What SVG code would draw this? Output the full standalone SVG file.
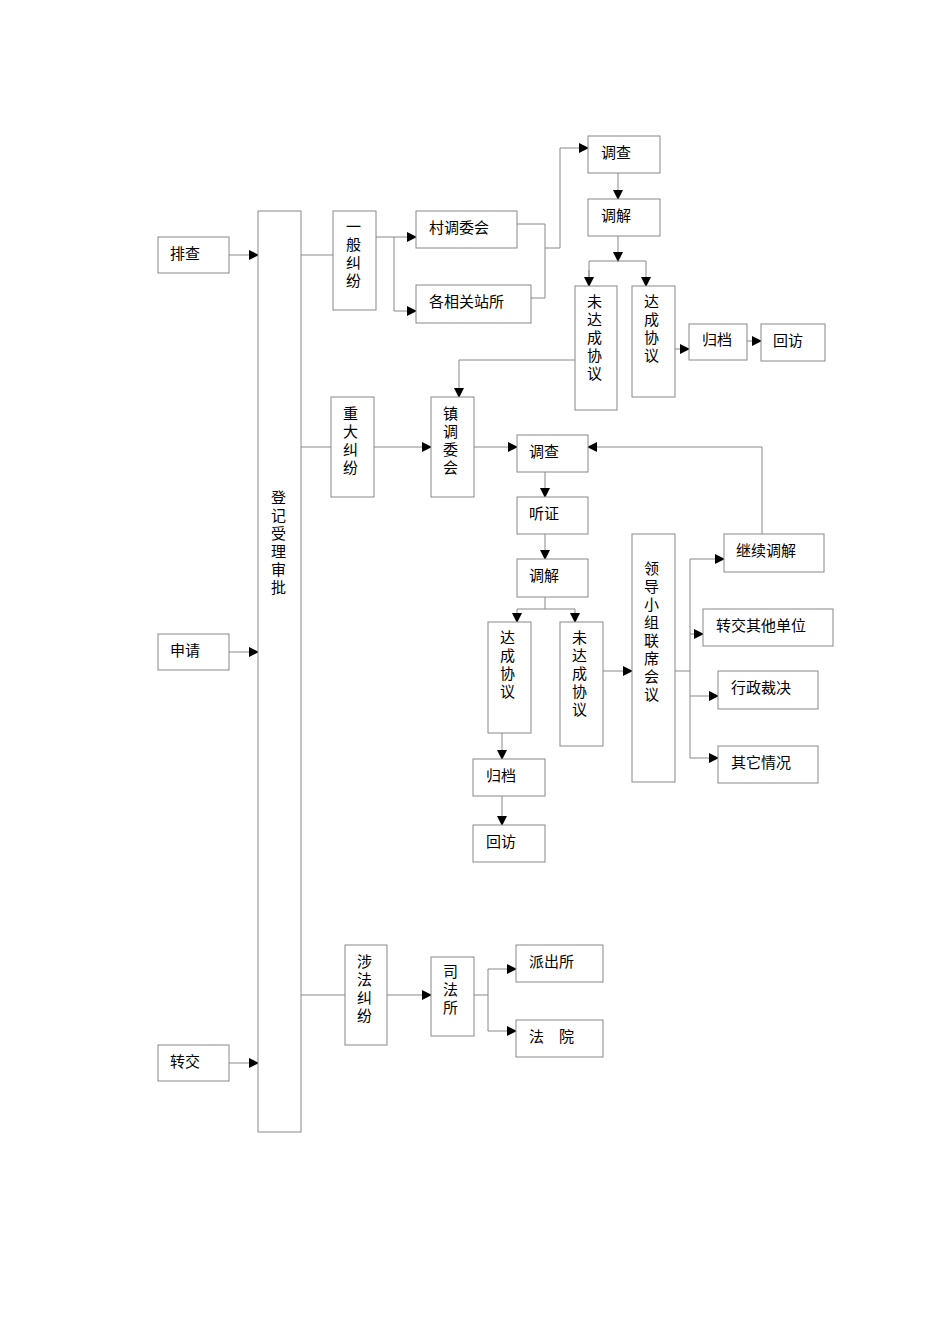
<svg xmlns="http://www.w3.org/2000/svg" width="950" height="1344" viewBox="0 0 950 1344">
<style>
rect{fill:#fff;stroke:#888;stroke-width:1}
text{font-family:"Liberation Serif","Noto Sans CJK SC",serif;font-size:15px;fill:#000}
.c path{fill:none;stroke:#888;stroke-width:1}
</style>
<defs><marker id="a" markerWidth="10" markerHeight="10" refX="9" refY="5" orient="auto" markerUnits="userSpaceOnUse"><path d="M0,0L10,5L0,10z" fill="#000"/></marker></defs>
<rect width="950" height="1344" style="stroke:none"/>
<g class="c">
<path d="M229,255H258" marker-end="url(#a)"/>
<path d="M229,652H258" marker-end="url(#a)"/>
<path d="M229,1063H258" marker-end="url(#a)"/>
<path d="M301,255H333"/>
<path d="M376,237H416" marker-end="url(#a)"/>
<path d="M394,237V311H416" marker-end="url(#a)"/>
<path d="M517,224H545V298H531"/>
<path d="M545,248H560V148H588" marker-end="url(#a)"/>
<path d="M618,173V199" marker-end="url(#a)"/>
<path d="M618,236V261" marker-end="url(#a)"/>
<path d="M589,286V261H646V286" marker-end="url(#a)"/>
<path d="M589,270V286" marker-end="url(#a)"/>
<path d="M675,349H689" marker-end="url(#a)"/>
<path d="M747,341H761" marker-end="url(#a)"/>
<path d="M575,360H459V397" marker-end="url(#a)"/>
<path d="M301,447H431" marker-end="url(#a)"/>
<path d="M474,447H517" marker-end="url(#a)"/>
<path d="M762,534V447H588" marker-end="url(#a)"/>
<path d="M545,472V497" marker-end="url(#a)"/>
<path d="M545,534V559" marker-end="url(#a)"/>
<path d="M545,597V609H575V622" marker-end="url(#a)"/>
<path d="M545,609H517V622" marker-end="url(#a)"/>
<path d="M603,671H632" marker-end="url(#a)"/>
<path d="M675,671H690"/>
<path d="M690,559H724" marker-end="url(#a)"/>
<path d="M690,559V758"/>
<path d="M690,634H703" marker-end="url(#a)"/>
<path d="M690,696H718" marker-end="url(#a)"/>
<path d="M690,758H718" marker-end="url(#a)"/>
<path d="M502,733V759" marker-end="url(#a)"/>
<path d="M502,796V825" marker-end="url(#a)"/>
<path d="M301,995H345"/>
<path d="M387,995H431" marker-end="url(#a)"/>
<path d="M474,995H488V969H516" marker-end="url(#a)"/>
<path d="M488,995V1031H516" marker-end="url(#a)"/>
</g>
<g id="n1"><rect x="158" y="237" width="71" height="36"/><text x="170" y="259">排查</text></g>
<g id="n2"><rect x="158" y="634" width="71" height="36"/><text x="170" y="656">申请</text></g>
<g id="n3"><rect x="158" y="1045" width="71" height="36"/><text x="170" y="1067">转交</text></g>
<g id="n4"><rect x="258" y="211" width="43" height="921"/><text x="271" y="503">登</text><text x="271" y="521">记</text><text x="271" y="539">受</text><text x="271" y="557">理</text><text x="271" y="575">审</text><text x="271" y="593">批</text></g>
<g id="n5"><rect x="333" y="211" width="43" height="99"/><text x="346" y="232">一</text><text x="346" y="250">般</text><text x="346" y="268">纠</text><text x="346" y="286">纷</text></g>
<g id="n6"><rect x="416" y="211" width="101" height="37"/><text x="429" y="233">村调委会</text></g>
<g id="n7"><rect x="416" y="285" width="115" height="38"/><text x="429" y="307">各相关站所</text></g>
<g id="n8"><rect x="588" y="136" width="72" height="37"/><text x="601" y="158">调查</text></g>
<g id="n9"><rect x="588" y="199" width="72" height="37"/><text x="601" y="221">调解</text></g>
<g id="n10"><rect x="575" y="286" width="42" height="124"/><text x="587" y="307">未</text><text x="587" y="325">达</text><text x="587" y="343">成</text><text x="587" y="361">协</text><text x="587" y="379">议</text></g>
<g id="n11"><rect x="632" y="286" width="43" height="111"/><text x="644" y="307">达</text><text x="644" y="325">成</text><text x="644" y="343">协</text><text x="644" y="361">议</text></g>
<g id="n12"><rect x="689" y="324" width="58" height="36"/><text x="702" y="345">归档</text></g>
<g id="n13"><rect x="761" y="324" width="64" height="37"/><text x="773" y="346">回访</text></g>
<g id="n14"><rect x="331" y="397" width="43" height="100"/><text x="343" y="419">重</text><text x="343" y="437">大</text><text x="343" y="455">纠</text><text x="343" y="473">纷</text></g>
<g id="n15"><rect x="431" y="397" width="43" height="100"/><text x="443" y="419">镇</text><text x="443" y="437">调</text><text x="443" y="455">委</text><text x="443" y="473">会</text></g>
<g id="n16"><rect x="517" y="435" width="71" height="37"/><text x="529" y="457">调查</text></g>
<g id="n17"><rect x="517" y="497" width="71" height="37"/><text x="529" y="519">听证</text></g>
<g id="n18"><rect x="517" y="559" width="71" height="38"/><text x="529" y="581">调解</text></g>
<g id="n19"><rect x="488" y="622" width="43" height="111"/><text x="500" y="643">达</text><text x="500" y="661">成</text><text x="500" y="679">协</text><text x="500" y="697">议</text></g>
<g id="n20"><rect x="560" y="622" width="43" height="124"/><text x="572" y="643">未</text><text x="572" y="661">达</text><text x="572" y="679">成</text><text x="572" y="697">协</text><text x="572" y="715">议</text></g>
<g id="n21"><rect x="632" y="534" width="43" height="248"/><text x="644" y="574">领</text><text x="644" y="592">导</text><text x="644" y="610">小</text><text x="644" y="628">组</text><text x="644" y="646">联</text><text x="644" y="664">席</text><text x="644" y="682">会</text><text x="644" y="700">议</text></g>
<g id="n22"><rect x="724" y="534" width="100" height="38"/><text x="736" y="556">继续调解</text></g>
<g id="n23"><rect x="703" y="609" width="130" height="37"/><text x="716" y="631">转交其他单位</text></g>
<g id="n24"><rect x="718" y="671" width="100" height="38"/><text x="731" y="693">行政裁决</text></g>
<g id="n25"><rect x="718" y="746" width="100" height="37"/><text x="731" y="768">其它情况</text></g>
<g id="n26"><rect x="473" y="759" width="72" height="37"/><text x="486" y="781">归档</text></g>
<g id="n27"><rect x="473" y="825" width="72" height="37"/><text x="486" y="847">回访</text></g>
<g id="n28"><rect x="345" y="945" width="42" height="100"/><text x="357" y="967">涉</text><text x="357" y="985">法</text><text x="357" y="1003">纠</text><text x="357" y="1021">纷</text></g>
<g id="n29"><rect x="431" y="957" width="43" height="79"/><text x="443" y="977">司</text><text x="443" y="995">法</text><text x="443" y="1013">所</text></g>
<g id="n30"><rect x="516" y="945" width="87" height="37"/><text x="529" y="967">派出所</text></g>
<g id="n31"><rect x="516" y="1020" width="87" height="37"/><text x="529" y="1042" xml:space="preserve">法　院</text></g>
</svg>
